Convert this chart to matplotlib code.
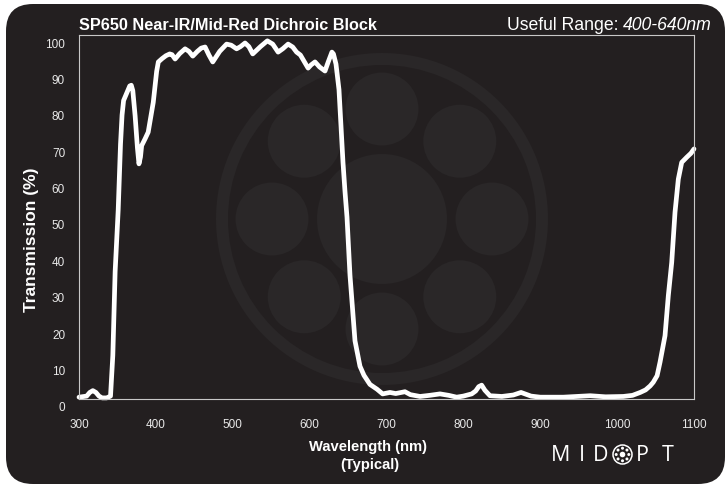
import matplotlib
matplotlib.use('Agg')
import math
import matplotlib.pyplot as plt
from matplotlib.patches import Circle, FancyBboxPatch, Wedge
from matplotlib.transforms import ScaledTranslation

# ---------------- data ----------------
wavelength_nm = [300, 310, 314, 318, 322, 326, 330, 336, 341, 344, 347, 351, 354, 356, 358, 362, 366, 368, 370,
                 373, 376, 378, 380, 381.5, 386, 390, 396.6, 401, 403.2, 408, 413, 418, 421, 425, 431, 438, 443, 448, 454,
                 459, 464, 469, 474, 483, 492, 498, 505, 510, 516, 521, 526, 536, 545, 552, 559, 565, 572, 578, 583,
                 588, 598, 602, 607, 613, 620, 624, 629, 631, 634.3,
                 638.2, 640.8, 643.4, 646, 648.6, 652.5, 659, 665.5, 670.7, 678.5, 687.6, 695,
                 704.5, 712, 724, 731, 743.6, 756, 769.6, 781, 791.3, 800, 810.8, 816, 820,
                 823.8, 828, 834.6, 850, 865, 875, 888, 900, 930, 965, 985, 1008, 1020, 1030,
                 1037, 1043, 1047, 1052, 1055.8, 1062.3, 1066.6, 1071, 1075.3, 1079.6, 1084,
                 1090.5, 1096, 1100]
transmission_pct = [0.5, 0.8, 1.8, 2.3, 1.8, 0.8, 0.3, 0.3, 0.8, 12, 35, 52, 70, 78, 82, 84, 86, 86.2, 84.7,
                    77.8, 69, 64.6, 66.5, 69.6, 71.5, 73.3, 81.5, 90, 92.6, 93.5, 94.3, 94.8, 94.6, 93.4, 94.9, 96.2, 95.5, 94.2, 95.5,
                    96.4, 96.7, 94.5, 92.6, 95.5, 97.5, 97.2, 96.2, 96.8, 97.8, 96.8, 94.8, 96.8, 98.4, 97.5, 95.3, 96.2, 97.5, 96.7, 95.3,
                    94.5, 90.9, 91.8, 92.6, 91.2, 90.1, 92.5, 95.3, 94.8, 92,
                    85, 75, 65, 57, 50, 34, 16, 9, 6.5, 4, 2.7, 1.4,
                    1.8, 1.5, 2.0, 1.2, 0.7, 1.0, 1.4, 1.0, 0.5, 0.8, 1.4, 2.2, 3.4,
                    3.8, 2.4, 0.9, 0.7, 1.1, 1.8, 0.8, 0.5, 0.5, 0.9, 0.6, 0.7, 1.0, 1.8,
                    2.5, 3.6, 4.6, 6.4, 10.1, 17.4, 28.4, 37.5, 51.3, 60.4, 65,
                    66.4, 67.5, 68.7]
x_ticks = [300, 400, 500, 600, 700, 800, 900, 1000, 1100]
y_ticks = [0, 10, 20, 30, 40, 50, 60, 70, 80, 90, 100]
title_text = "SP650 Near-IR/Mid-Red Dichroic Block"
range_label = "Useful Range: "
range_value = "400-640nm"
y_label = "Transmission (%)"
x_label_1 = "Wavelength (nm)"
x_label_2 = "(Typical)"

# ---------------- figure ----------------
W, H, DPI = 725, 485, 100
BG = '#231f20'
WM = '#2a2728'
FG = '#ffffff'
TICK = '#e8e8e8'
plt.rcParams['font.family'] = ['Liberation Sans', 'DejaVu Sans']

fig = plt.figure(figsize=(W / DPI, H / DPI), dpi=DPI)
fig.patch.set_facecolor('white')
tr_in = fig.dpi_scale_trans


def pin(x, y):
    """pixel (from top-left) -> inches"""
    return (x / DPI, (H - y) / DPI)


bg = FancyBboxPatch(pin(6, H), (W - 6) / DPI, (H - 5) / DPI,
                    boxstyle='round,pad=0,rounding_size=0.27',
                    transform=tr_in, fc=BG, ec='none', zorder=-10)
fig.add_artist(bg)

# watermark logo
cx, cy = 382, 220
fig.add_artist(Wedge(pin(cx, cy), 166 / DPI, 0, 360, width=12 / DPI,
                     transform=tr_in, fc=WM, ec='none', zorder=-5))
fig.add_artist(Circle(pin(cx, cy), 65 / DPI, transform=tr_in, fc=WM, ec='none', zorder=-5))
for k in range(8):
    a = math.radians(90 - 45 * k)
    px = cx + 110 * math.cos(a)
    py = cy - 110 * math.sin(a)
    fig.add_artist(Circle(pin(px, py), 36.5 / DPI, transform=tr_in, fc=WM, ec='none', zorder=-5))

# axes
ax = fig.add_axes([79 / W, 1 - 400 / H, (694 - 79) / W, (400 - 36) / H])
ax.set_facecolor('none')
ax.plot(wavelength_nm, transmission_pct, color=FG, lw=3.4, solid_joinstyle='round',
        solid_capstyle='round', clip_on=False)
ax.set_xlim(300, 1100)
ax.set_ylim(0, 100)
ax.set_xticks(x_ticks)
ax.set_yticks(y_ticks)
for s in ax.spines.values():
    s.set_color('#c8c8c8')
    s.set_linewidth(0.8)
ax.tick_params(length=0, labelsize=8.5, colors=TICK)
ax.tick_params(axis='x', pad=14)
ax.tick_params(axis='y', pad=10)
off = ScaledTranslation(0, -7 / DPI, tr_in)
for lab in ax.get_yticklabels():
    lab.set_transform(lab.get_transform() + off)

# texts
fig.text(79 / W, 1 - 30 / H, title_text, color=FG, fontsize=11.7, fontweight='bold',
         ha='left', va='baseline')
t_val = fig.text(712 / W, 1 - 30 / H, range_value, color=FG, fontsize=12.7, style='italic',
                 ha='right', va='baseline')
fig.canvas.draw()
bb = t_val.get_window_extent()
fig.text(bb.x0 / W, 1 - 30 / H, range_label, color=FG, fontsize=12.7,
         ha='right', va='baseline')

fig.text(32 / W, 1 - 240 / H, y_label, color=FG, fontsize=12.5, fontweight='bold',
         rotation=90, ha='center', va='center')
fig.text(368 / W, 1 - 447 / H, x_label_1, color=FG, fontsize=10.6, fontweight='bold',
         ha='center', va='center')
fig.text(370 / W, 1 - 465 / H, x_label_2, color=FG, fontsize=10.6, fontweight='bold',
         ha='center', va='center')

# MIDOPT logo
logo_letters = [("M", 561), ("I", 581.5), ("D", 601), ("P", 642.5), ("T", 667.5)]
for ch, x in logo_letters:
    fig.text(x / W, 1 - 456 / H, ch, color=FG, fontsize=15.5, fontweight='normal',
             family=['Open Sans', 'DejaVu Sans'], ha='center', va='center')
lc = (622.5, 455.5)
fig.add_artist(Circle(pin(*lc), 9.5 / DPI, transform=tr_in, fc='none', ec=FG, lw=1.1))
fig.add_artist(Circle(pin(*lc), 2.8 / DPI, transform=tr_in, fc=FG, ec='none'))
for k in range(8):
    a = math.radians(45 * k)
    fig.add_artist(Circle(pin(lc[0] + 6.3 * math.cos(a), lc[1] - 6.3 * math.sin(a)), 1.5 / DPI,
                          transform=tr_in, fc=FG, ec='none'))

fig.savefig('out.png', dpi=DPI, facecolor=fig.get_facecolor())
